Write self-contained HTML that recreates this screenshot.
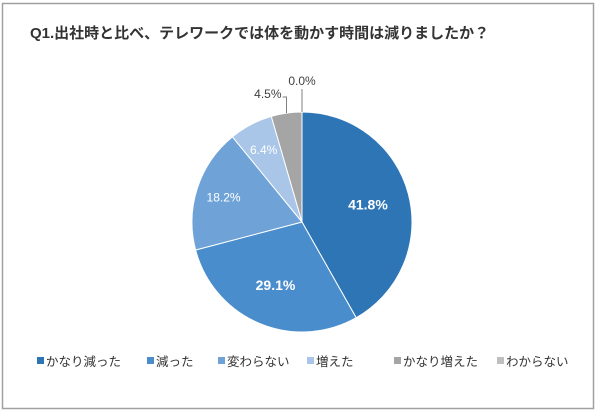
<!DOCTYPE html>
<html><head><meta charset="utf-8"><style>
body{margin:0;background:#fff;}
svg{display:block;font-family:"Liberation Sans","Noto Sans CJK JP",sans-serif;}
</style></head><body>
<svg width="600" height="414" viewBox="0 0 600 414">
<rect x="2.5" y="3.5" width="591" height="405" fill="#fff" stroke="#a0a0a0" stroke-width="1.5"/>
<text x="30" y="38" font-size="15" font-weight="bold" fill="#333">Q1.出社時と比べ、テレワークでは体を動かす時間は減りましたか？</text>
<g id="pie"></g>
<g id="labels"></g>
<g id="legend"></g>
</svg>
<script>
const categories=["かなり減った","減った","変わらない","増えた","かなり増えた","わからない"];
const values=[41.8,29.1,18.2,6.4,4.5,0.0];
const colors=["#2e75b6","#4a8dcc","#6fa3d8","#a9c6e8","#a5a5a5","#bfbfbf"];
const legendX=[37,147,218,307,394,497];
const NS="http://www.w3.org/2000/svg";
const cx=302,cy=222,r=110;
const pie=document.getElementById('pie'),lab=document.getElementById('labels'),leg=document.getElementById('legend');
function mk(t,a,p){const e=document.createElementNS(NS,t);for(const k in a)e.setAttribute(k,a[k]);p.appendChild(e);return e;}
const total=values.reduce((a,b)=>a+b,0);
function pt(ang,rr){return [cx+rr*Math.sin(ang),cy-rr*Math.cos(ang)];}
let a0=0;
values.forEach((v,i)=>{
  const a1=a0+v/total*2*Math.PI;
  if(v>0){
    const [x0,y0]=pt(a0,r),[x1,y1]=pt(a1,r);
    const p=mk('path',{d:`M${cx},${cy}L${x0},${y0}A${r},${r} 0 ${a1-a0>Math.PI?1:0} 1 ${x1},${y1}Z`,fill:colors[i],stroke:'#fff','stroke-width':1},pie);
    
    
  }
  const mid=(a0+a1)/2;
  let t;
  if(v>=6){
    const big=v>25;
    const [lx,ly]=pt(mid,r*(big?0.62:0.75));
    t=mk('text',{x:lx,y:ly+5,'text-anchor':'middle','font-size':big?14:12,'font-weight':big?'bold':'normal',fill:'#fff'},lab);
  } else {
    const [ex,ey]=pt(mid,r);
    const ly= i===4?98:85;
    const ln=mk('polyline',{points:i===4?`${ex},${ey} ${ex},${ly-1} ${ex-4},${ly-1}`:`${ex},${ey} ${ex},${ly+4}`,fill:'none',stroke:'#7f7f7f','stroke-width':1},lab);
    
    
    t=mk('text',{x:i===4?ex-5:ex,y:ly,'text-anchor':i===4?'end':'middle','font-size':12,fill:'#404040'},lab);
  }
  t.textContent=v.toFixed(1)+'%';
  
  
  a0=a1;
});
categories.forEach((c,i)=>{
  const g=mk('g',{},leg);
  
  
  mk('rect',{x:legendX[i],y:357,width:7,height:7,fill:colors[i]},g);
  const t=mk('text',{x:legendX[i]+9,y:366,'font-size':12.5,fill:'#333'},g);
  t.textContent=c;
});
</script>
</body></html>
